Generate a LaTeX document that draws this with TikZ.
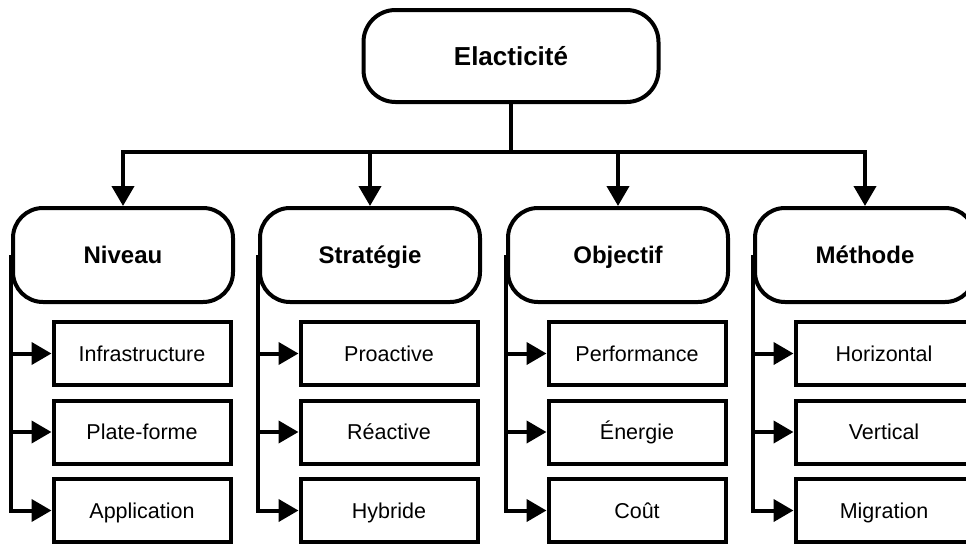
\documentclass[tikz,border=0pt]{standalone}
\usepackage{fontspec}
\setmainfont{Liberation Sans}
\usetikzlibrary{arrows.meta}

\begin{document}
\begin{tikzpicture}[x=1pt, y=-1pt, line width=4pt,
        root/.style={draw, rounded corners=32pt, minimum width=295pt, minimum height=92pt, text height=18.7pt, text depth=0pt, font=\fontsize{26}{30}\selectfont\bfseries},
        group/.style={draw, rounded corners=30pt, minimum width=220pt, minimum height=94pt, text height=17.2pt, text depth=0pt, font=\fontsize{24}{28}\selectfont\bfseries},
        leaf/.style={draw, minimum width=177pt, minimum height=63pt, text height=15.4pt, text depth=0pt, font=\fontsize{21.5}{25}\selectfont},
        arr/.style={-{Triangle[length=20pt, width=22pt]}}]
        % Frame of the picture
        \clip (0,0) rectangle (966,544);
        
        % Root node
        \node[root] (EL) at (511,56) {Elacticité};
        \coordinate (J) at (511,152);
        
        % Category nodes
        \node[group] (NIV) at (123,255) {Niveau};
        \node[group] (STR) at (370,255) {Stratégie};
        \node[group] (OBJ) at (618,255) {Objectif};
        \node[group] (MET) at (865,255) {Méthode};
        
        % Leaves of Niveau
        \node[leaf] (NIV1) at (142,353.5) {Infrastructure};
        \node[leaf] (NIV2) at (142,432) {Plate-forme};
        \node[leaf] (NIV3) at (142,510.5) {Application};
        
        % Leaves of Stratégie
        \node[leaf] (STR1) at (389,353.5) {Proactive};
        \node[leaf] (STR2) at (389,432) {Réactive};
        \node[leaf] (STR3) at (389,510.5) {Hybride};
        
        % Leaves of Objectif
        \node[leaf] (OBJ1) at (637,353.5) {Performance};
        \node[leaf] (OBJ2) at (637,432) {Énergie};
        \node[leaf] (OBJ3) at (637,510.5) {Coût};
        
        % Leaves of Méthode
        \node[leaf] (MET1) at (884,353.5) {Horizontal};
        \node[leaf] (MET2) at (884,432) {Vertical};
        \node[leaf] (MET3) at (884,510.5) {Migration};
        
        % Root to categories
        \draw (EL.south) -- (J);
        \draw[arr] (J) -| (NIV.north);
        \draw[arr] (J) -| (STR.north);
        \draw[arr] (J) -| (OBJ.north);
        \draw[arr] (J) -| (MET.north);
        
        % Categories to leaves
        \draw[arr] (NIV.west) |- (NIV1.west);
        \draw[arr] (NIV.west) |- (NIV2.west);
        \draw[arr] (NIV.west) |- (NIV3.west);
        \draw[arr] (STR.west) |- (STR1.west);
        \draw[arr] (STR.west) |- (STR2.west);
        \draw[arr] (STR.west) |- (STR3.west);
        \draw[arr] (OBJ.west) |- (OBJ1.west);
        \draw[arr] (OBJ.west) |- (OBJ2.west);
        \draw[arr] (OBJ.west) |- (OBJ3.west);
        \draw[arr] (MET.west) |- (MET1.west);
        \draw[arr] (MET.west) |- (MET2.west);
        \draw[arr] (MET.west) |- (MET3.west);
        
    \end{tikzpicture}
\end{document}
